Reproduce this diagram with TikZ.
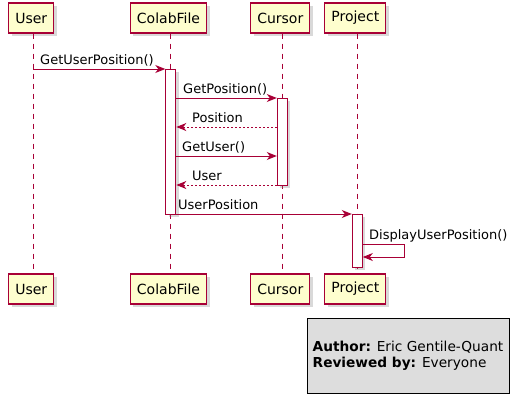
\documentclass[tikz,border=0pt]{standalone}
\usepackage{fontspec}
\setmainfont{DejaVu Sans}
\usetikzlibrary{arrows.meta,shadows,positioning}
\definecolor{umlred}{HTML}{A80036}
\definecolor{umlyellow}{HTML}{FEFECE}
\definecolor{legendgray}{HTML}{DDDDDD}

\begin{document}
\begin{tikzpicture}[x=1pt, y=-1pt]
  \tikzstyle{actor}=[rectangle, draw=umlred, line width=1.2pt, fill=umlyellow, minimum height=30pt, inner xsep=6.5pt, font=\fontsize{14}{16}\selectfont, drop shadow={shadow xshift=3pt, shadow yshift=-3pt, opacity=0.3}]
  \tikzstyle{act}=[rectangle, draw=umlred, line width=1pt, fill=white, minimum width=10pt, inner sep=0pt, drop shadow={shadow xshift=3pt, shadow yshift=-3pt, opacity=0.3}]
  \tikzstyle{life}=[umlred, line width=1pt, dash pattern=on 5pt off 5pt]
  \tikzstyle{msg}=[umlred, line width=1pt, -{Stealth[length=10pt, width=8pt, inset=3pt]}]
  \tikzstyle{reply}=[msg, dash pattern=on 2pt off 2pt]
  \tikzstyle{lbl}=[anchor=base west, inner sep=0pt, font=\fontsize{13}{15}\selectfont]
  \tikzstyle{legend}=[rectangle, draw, line width=1pt, fill=legendgray, minimum height=75pt, minimum width=202pt, align=left, font=\fontsize{13.7}{16}\selectfont]

  \useasboundingbox (0,0) rectangle (519,404);

  % Participantes arriba y abajo
  \node[actor] (user) at (31.3,18) {User};
  \node[actor] (colab) at (168.5,18) {ColabFile};
  \node[actor] (cursor) at (280.3,18) {Cursor};
  \node[actor] (proj) at (355.3,18) {Project};
  \node[actor] (userB) at (31.3,289) {User};
  \node[actor] (colabB) at (168.5,289) {ColabFile};
  \node[actor] (cursorB) at (280.3,289) {Cursor};
  \node[actor] (projB) at (355.3,289) {Project};

  % Lineas de vida
  \draw[life] ([xshift=2pt]user.south) -- ([xshift=2pt]userB.north);
  \draw[life] ([xshift=2pt]colab.south) -- ([xshift=2pt]colabB.north);
  \draw[life] ([xshift=2pt]cursor.south) -- ([xshift=2pt]cursorB.north);
  \draw[life] ([xshift=2pt]proj.south) -- ([xshift=2pt]projB.north);

  % Activaciones
  \node[act, minimum height=145pt] (colabA) at (170.8,141.5) {};
  \node[act, minimum height=87pt] (cursorA) at (282.3,141.5) {};
  \node[act, minimum height=53pt] (projA) at (357.3,240.5) {};

  % Mensajes
  \coordinate (m1) at (33.3,69);
  \draw[msg] (m1) -- (m1 -| colabA.west);
  \node[lbl] (l1) at (40,64) {GetUserPosition()};
  \coordinate (m2) at (176,98);
  \draw[msg] (m2 -| colabA.east) -- (m2 -| cursorA.west);
  \node[lbl] (l2) at (183,93) {GetPosition()};
  \coordinate (m3) at (176,127);
  \draw[reply] (m3 -| cursorA.west) -- (m3 -| colabA.east);
  \node[lbl] (l3) at (192,122) {Position};
  \coordinate (m4) at (176,156);
  \draw[msg] (m4 -| colabA.east) -- (m4 -| cursorA.west);
  \node[lbl] (l4) at (182,151) {GetUser()};
  \coordinate (m5) at (176,185);
  \draw[reply] (m5 -| cursorA.west) -- (m5 -| colabA.east);
  \node[lbl] (l5) at (192,180) {User};
  \coordinate (m6) at (176,214);
  \draw[msg] (m6 -| colabA.east) -- (m6 -| projA.west);
  \node[lbl] (l6) at (178,209) {UserPosition};
  % Mensaje a si mismo
  \coordinate (m7) at (362.3,244);
  \coordinate (m7r) at (404,244);
  \coordinate (m7b) at (362.3,257);
  \draw[msg] (m7 -| projA.east) -- (m7r) -- (m7r |- m7b) -- (m7b -| projA.east);
  \node[lbl] (l7) at (369,239) {DisplayUserPosition()};

  % Leyenda
  \node[legend] (info) at (408,355.5) {\textbf{Author:} Eric Gentile-Quant\\\textbf{Reviewed by:} Everyone};
\end{tikzpicture}
\end{document}
